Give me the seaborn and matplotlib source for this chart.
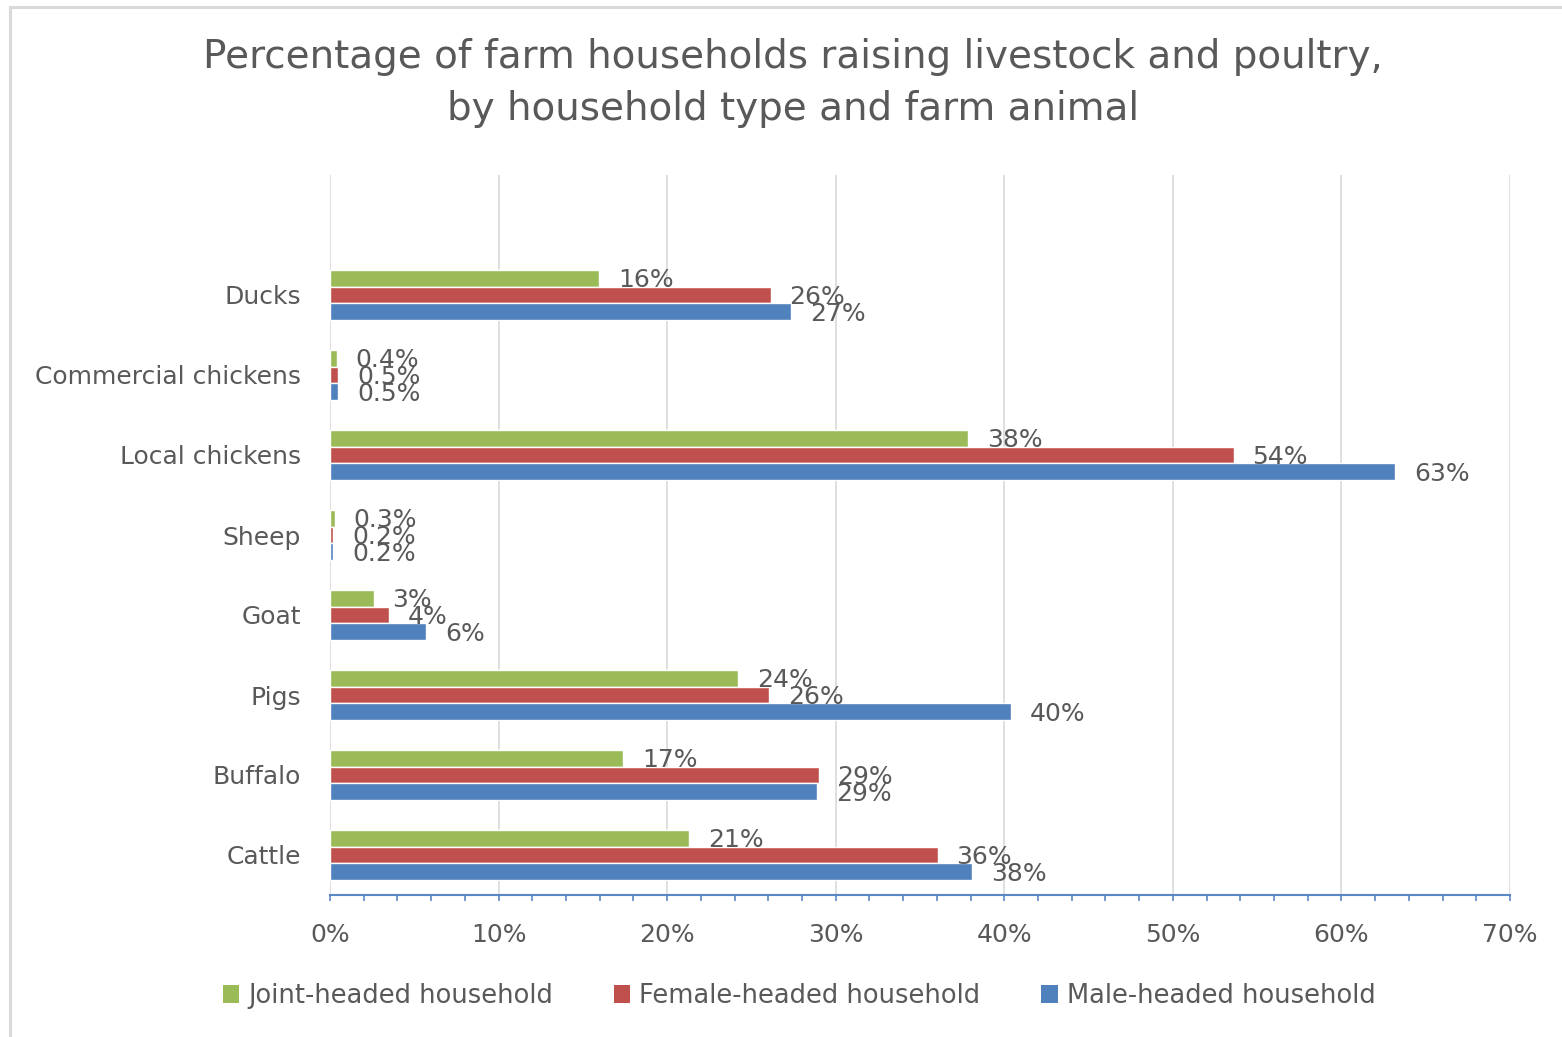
import matplotlib
matplotlib.use("Agg")
import matplotlib.pyplot as plt
import matplotlib.patches as mpatches
from matplotlib.ticker import MultipleLocator, FuncFormatter
import seaborn as sns
import pandas as pd

# ---- data ----
animals = ["Ducks", "Commercial chickens", "Local chickens", "Sheep", "Goat", "Pigs", "Buffalo", "Cattle"]
series = ["Joint-headed household", "Female-headed household", "Male-headed household"]
joint = [15.96, 0.4, 37.85, 0.3, 2.6, 24.2, 17.4, 21.3]
female = [26.15, 0.5, 53.6, 0.2, 3.5, 26.05, 29.0, 36.05]
male = [27.35, 0.5, 63.2, 0.2, 5.7, 40.4, 28.9, 38.1]
joint_labels = ["16%", "0.4%", "38%", "0.3%", "3%", "24%", "17%", "21%"]
female_labels = ["26%", "0.5%", "54%", "0.2%", "4%", "26%", "29%", "36%"]
male_labels = ["27%", "0.5%", "63%", "0.2%", "6%", "40%", "29%", "38%"]
colors = ["#9BBB59", "#C0504D", "#4F81BD"]
title = "Percentage of farm households raising livestock and poultry,\nby household type and farm animal"

rows = []
for name, vals in zip(series, [joint, female, male]):
    for a, v in zip(animals, vals):
        rows.append({"Animal": a, "Household": name, "Value": v})
df = pd.DataFrame(rows)

sns.set_theme(style="white")
plt.rcParams["font.family"] = ["DejaVu Sans"]
TXT = "#595959"
FS = 18

W, H = 1562, 1037
fig = plt.figure(figsize=(W / 100, H / 100), dpi=100)
ax = fig.add_axes([330 / W, 1 - 895 / H, (1510 - 330) / W, (895 - 175) / H])

sns.barplot(data=df, y="Animal", x="Value", hue="Household", order=animals,
            hue_order=series, palette=colors, orient="h", width=0.625,
            saturation=1, ax=ax, legend=False)

ax.set_xlim(0, 70)
ax.set_ylim(7.5, -1.5)
ax.set_xlabel("")
ax.set_ylabel("")

for cont, labs in zip(ax.containers, [joint_labels, female_labels, male_labels]):
    for bar, lab in zip(cont.patches, labs):
        ax.annotate(lab, (bar.get_width(), bar.get_y() + bar.get_height() / 2),
                    xytext=(13.5, -1.5), textcoords="offset points",
                    ha="left", va="center", fontsize=FS, color=TXT)

ax.xaxis.set_major_locator(MultipleLocator(10))
ax.xaxis.set_minor_locator(MultipleLocator(2))
ax.xaxis.set_major_formatter(FuncFormatter(lambda v, p: f"{v:.0f}%"))
ax.grid(axis="x", which="major", color="#D9D9D9", linewidth=1.2)
ax.set_axisbelow(True)
for s in ["top", "right", "left"]:
    ax.spines[s].set_visible(False)
ax.spines["bottom"].set_color("#5B87C2")
ax.spines["bottom"].set_linewidth(1.5)
ax.tick_params(axis="x", which="both", direction="out", length=4, width=1.2,
               color="#5B87C2", bottom=True, labelsize=FS, labelcolor=TXT, pad=16)
ax.tick_params(axis="y", length=0, pad=21, labelsize=FS, labelcolor=TXT)

fig.text(793 / W, 1 - 83 / H, title, ha="center", va="center", fontsize=28,
         color=TXT, linespacing=1.45)

handles = [mpatches.Patch(facecolor=c, edgecolor="none") for c in colors]
fig.legend(handles, series, loc="center", bbox_to_anchor=(799 / W, 1 - 996 / H),
           ncol=3, frameon=False, fontsize=18.5, labelcolor=TXT, handlelength=0.65,
           handleheight=0.65, handletextpad=0.35, columnspacing=2.35)

fig.add_artist(mpatches.Rectangle((10 / W, -0.1), 1.2, 1.1 - 6.5 / H,
                                  transform=fig.transFigure, fill=False,
                                  edgecolor="#D9D9D9", linewidth=2.2))

fig.savefig("out.png", dpi=100)
